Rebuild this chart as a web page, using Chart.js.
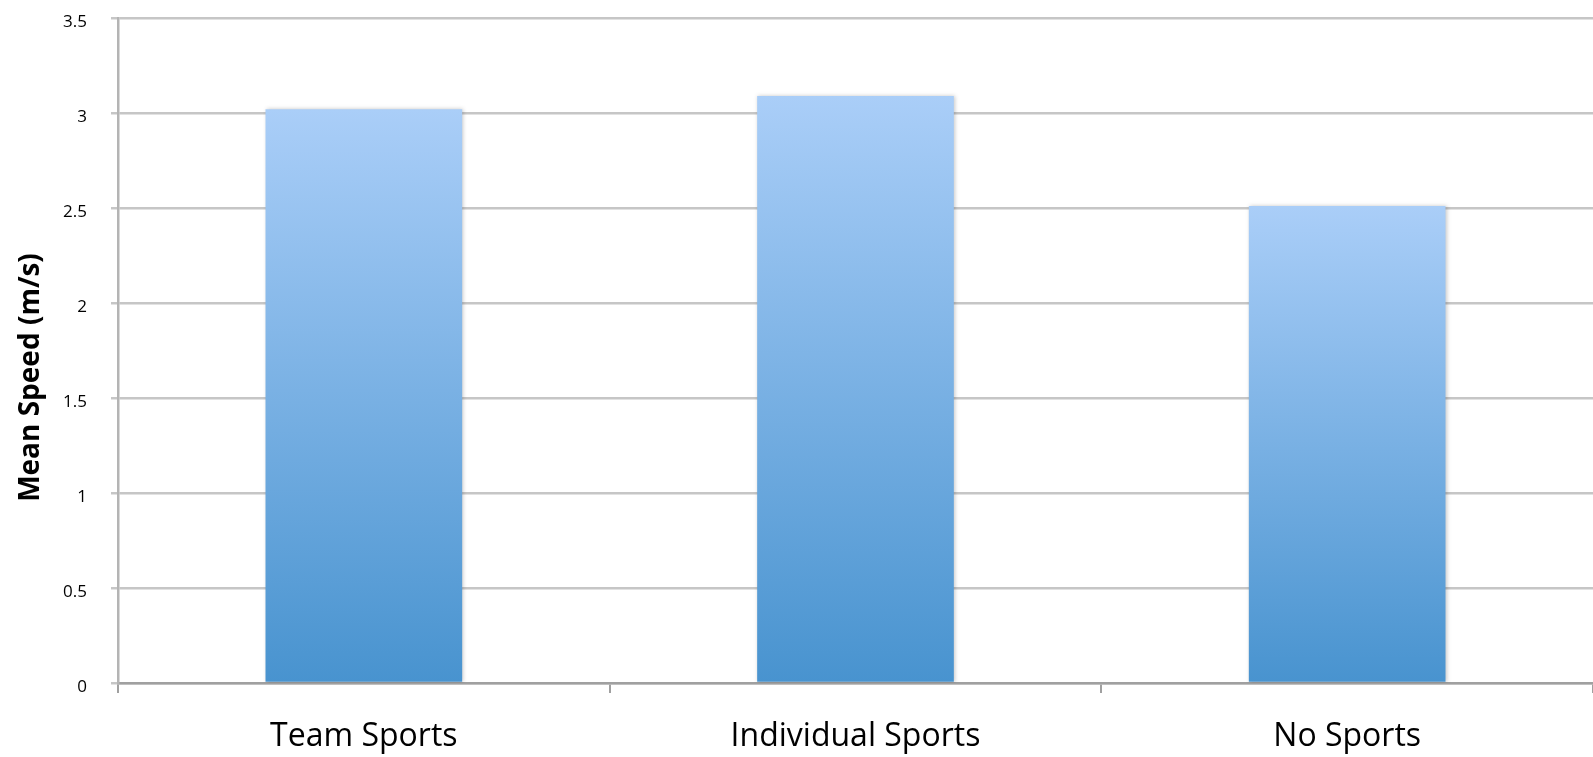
<!DOCTYPE html>
<html>
<head>
<meta charset="utf-8">
<script src="https://cdn.jsdelivr.net/npm/chart.js@4.4.1/dist/chart.umd.min.js"></script>
<style>
  html, body { margin: 0; padding: 0; background: #fff; }
  #speedChart { display: block; }
</style>
</head>
<body>
<canvas id="speedChart" width="1593" height="757"></canvas>
<script>
var groups = ['Team Sports', 'Individual Sports', 'No Sports'];
var meanSpeed = [3.02, 3.09, 2.51];
var speedTicks = [0, 0.5, 1, 1.5, 2, 2.5, 3, 3.5];
var yTitle = 'Mean Speed (m/s)';

// light blue at the top of each bar, deeper blue at its base
function barFill(context) {
  var chart = context.chart;
  if (!chart.chartArea) return '#7fb2e6';
  var y = chart.scales.y;
  var top = y.getPixelForValue(context.raw);
  var base = y.getPixelForValue(0);
  var g = chart.ctx.createLinearGradient(0, top, 0, base);
  g.addColorStop(0, '#aacef8');
  g.addColorStop(1, '#4893cf');
  return g;
}

var barShadow = {
  id: 'barShadow',
  beforeDatasetDraw: function (chart) {
    var c = chart.ctx;
    c.save();
    c.shadowColor = 'rgba(0,0,0,0.22)';
    c.shadowBlur = 4;
    c.shadowOffsetX = 1;
    c.shadowOffsetY = 0;
  },
  afterDatasetDraw: function (chart) {
    chart.ctx.restore();
  }
};

// rotated axis title, sitting a little below the middle of the axis
var axisTitle = {
  id: 'axisTitle',
  afterDraw: function (chart) {
    var c = chart.ctx;
    var area = chart.chartArea;
    c.save();
    c.translate(31, (area.top + area.bottom) / 2 + 27);
    c.rotate(-Math.PI / 2);
    c.font = 'bold 28px "Open Sans"';
    c.fillStyle = '#000';
    c.textAlign = 'center';
    c.textBaseline = 'middle';
    c.fillText(yTitle, 0, 0);
    c.restore();
  }
};

new Chart(document.getElementById('speedChart'), {
  type: 'bar',
  data: {
    labels: groups,
    datasets: [{
      data: meanSpeed,
      backgroundColor: barFill,
      borderWidth: 0,
      barPercentage: 0.4,
      categoryPercentage: 1
    }]
  },
  options: {
    responsive: false,
    animation: false,
    layout: { padding: { top: 18, right: -4, bottom: 0, left: 0 } },
    plugins: { legend: { display: false }, tooltip: { enabled: false } },
    scales: {
      x: {
        grid: { drawOnChartArea: false, offset: true, tickLength: 10, color: '#a0a0a0', lineWidth: 2 },
        border: { color: '#a0a0a0', width: 2.5 },
        ticks: { color: '#000', padding: 25, font: { family: 'Open Sans', size: 32 } },
        afterFit: function (scale) {
          scale.height = 74;
          scale.paddingLeft = 0;
          scale.paddingRight = 0;
        }
      },
      y: {
        min: 0,
        max: 3.5,
        afterBuildTicks: function (scale) {
          scale.ticks = speedTicks.map(function (v) { return { value: v }; });
        },
        grid: { color: '#c6c6c6', lineWidth: 2.5, tickLength: 7 },
        border: { color: '#b4b4b4', width: 2.5 },
        ticks: {
          color: '#000',
          padding: 24,
          labelOffset: 4,
          font: { family: 'Open Sans', size: 17 },
          callback: function (v) { return String(v); }
        },
        afterFit: function (scale) {
          scale.width = 118;
          scale.paddingTop = 0;
          scale.paddingBottom = 0;
        }
      }
    }
  },
  plugins: [barShadow, axisTitle]
});
</script>
</body>
</html>
